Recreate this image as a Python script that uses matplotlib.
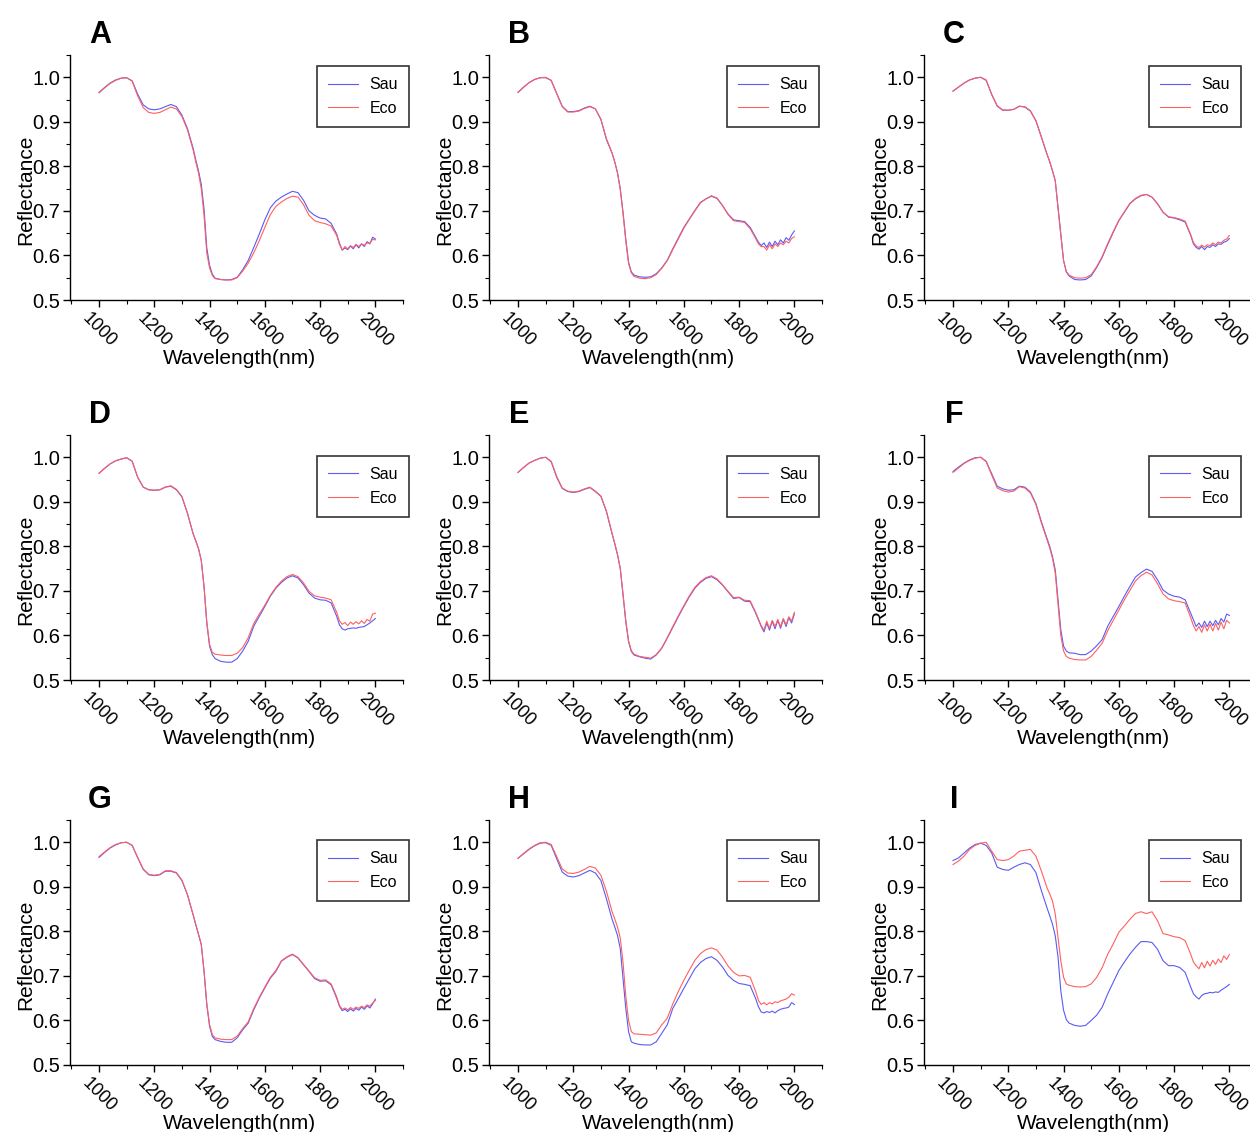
import matplotlib.pyplot as plt
import matplotlib.transforms as mtransforms
from matplotlib.ticker import MultipleLocator

plt.rcParams['font.family'] = ['Liberation Sans', 'DejaVu Sans']

# wavelength grid (nm) the curves were read at
wl = [1000, 1020, 1040, 1060, 1080, 1100, 1120, 1140, 1160, 1180, 1200, 1220, 1240, 1260, 1280, 1300, 1320, 1340,
      1350, 1360, 1370, 1380, 1390, 1400, 1410, 1420,
      1440, 1460, 1480, 1500, 1520, 1540, 1560, 1580, 1600, 1620, 1640, 1660, 1680, 1700, 1720, 1740, 1760, 1780,
      1800, 1820, 1840, 1860,
      1870, 1880, 1890, 1900, 1910, 1920, 1930, 1940, 1950, 1960, 1970, 1980, 1990, 2000]

a_sau = [.966, .977, .987, .994, .998, .999, .992, .962, .938, .929, .927, .929, .934, .939, .934, .915, .885, .842,
         .815, .790, .760, .705, .617, .578, .558, .549,
         .546, .545, .546, .551, .568, .589, .618, .648, .680, .707, .722, .731, .738, .744, .741, .724, .700, .690,
         .684, .682, .672, .648,
         .628, .612, .617, .613, .621, .615, .624, .617, .626, .620, .631, .626, .641, .637]
a_eco = [.965, .976, .986, .993, .998, .999, .991, .958, .932, .921, .919, .921, .927, .933, .929, .912, .882, .838,
         .810, .785, .750, .690, .605, .572, .555, .548,
         .546, .545, .545, .550, .565, .583, .606, .633, .663, .692, .710, .720, .728, .733, .731, .714, .690, .678,
         .674, .671, .666, .645,
         .625, .612, .620, .615, .622, .618, .625, .620, .626, .623, .628, .627, .636, .635]

b_sau = [.966, .978, .988, .995, .999, .999, .993, .964, .935, .923, .923, .925, .931, .935, .929, .905, .860, .830,
         .810, .786, .750, .697, .637, .585, .563, .556,
         .552, .551, .552, .559, .572, .589, .615, .639, .663, .682, .701, .719, .727, .733, .728, .712, .693, .680,
         .678, .676, .663, .641,
         .630, .622, .628, .618, .630, .620, .632, .624, .635, .628, .640, .634, .646, .655]
b_eco = [.966, .977, .988, .995, .999, 1.0, .993, .963, .934, .922, .922, .924, .930, .934, .929, .906, .862, .831,
         .810, .785, .748, .694, .632, .582, .561, .553,
         .549, .548, .550, .557, .571, .588, .613, .637, .661, .681, .700, .718, .727, .734, .729, .712, .692, .678,
         .676, .674, .660, .638,
         .626, .620, .620, .612, .624, .615, .626, .620, .628, .624, .632, .628, .638, .642]

c_sau = [.969, .978, .987, .994, .998, 1.0, .993, .961, .935, .926, .926, .928, .935, .933, .924, .902, .865, .827,
         .810, .790, .768, .708, .649, .589, .563, .554,
         .546, .545, .546, .554, .573, .596, .625, .652, .678, .697, .716, .727, .734, .737, .731, .716, .697, .686,
         .684, .680, .675, .645,
         .626, .618, .614, .620, .613, .620, .618, .624, .620, .626, .625, .630, .632, .638]
c_eco = [.969, .978, .987, .994, .998, 1.0, .994, .962, .936, .927, .926, .928, .935, .934, .925, .903, .866, .828,
         .811, .790, .767, .706, .646, .588, .564, .556,
         .550, .549, .550, .557, .575, .598, .627, .654, .679, .698, .717, .728, .735, .737, .731, .716, .697, .687,
         .685, .682, .677, .647,
         .629, .621, .618, .623, .619, .624, .622, .628, .624, .630, .628, .634, .637, .645]

d_sau = [.964, .975, .985, .992, .996, .999, .991, .955, .933, .927, .926, .927, .933, .935, .927, .911, .874, .829,
         .812, .795, .769, .710, .628, .576, .557, .548,
         .542, .540, .540, .548, .565, .587, .621, .643, .665, .688, .706, .719, .729, .734, .729, .714, .695, .684,
         .680, .679, .673, .643,
         .624, .615, .612, .615, .616, .617, .616, .618, .619, .620, .624, .628, .633, .638]
d_eco = [.964, .975, .985, .992, .996, .999, .991, .955, .933, .927, .926, .927, .933, .936, .928, .912, .875, .830,
         .813, .795, .768, .710, .630, .580, .562, .558,
         .556, .555, .555, .560, .573, .595, .627, .648, .668, .690, .708, .722, .732, .737, .732, .718, .699, .689,
         .686, .684, .680, .652,
         .633, .625, .629, .622, .630, .625, .631, .626, .633, .627, .636, .632, .648, .650]

e_sau = [.966, .977, .987, .993, .998, 1.0, .990, .955, .930, .923, .921, .923, .928, .932, .923, .912, .878, .829,
         .806, .781, .750, .691, .631, .586, .564, .556,
         .552, .549, .547, .556, .571, .594, .618, .642, .665, .687, .706, .719, .728, .732, .725, .713, .698, .683,
         .685, .677, .676, .650,
         .635, .620, .608, .628, .612, .632, .615, .634, .616, .636, .620, .640, .628, .648]
e_eco = [.966, .977, .987, .993, .998, 1.0, .991, .957, .931, .924, .922, .924, .929, .933, .924, .913, .879, .830,
         .807, .782, .751, .693, .633, .588, .566, .558,
         .553, .551, .549, .557, .572, .595, .620, .644, .667, .689, .708, .721, .730, .734, .727, .714, .699, .685,
         .686, .679, .678, .652,
         .637, .622, .612, .632, .616, .634, .620, .636, .620, .638, .624, .642, .632, .652]

f_sau = [.968, .978, .987, .994, .999, 1.0, .991, .963, .935, .929, .926, .927, .935, .933, .922, .896, .855, .818,
         .800, .777, .747, .680, .613, .576, .565, .561,
         .560, .557, .557, .565, .577, .591, .621, .643, .665, .688, .710, .731, .741, .749, .744, .725, .702, .693,
         .688, .686, .680, .650,
         .635, .620, .628, .618, .632, .620, .632, .622, .634, .624, .638, .630, .648, .645]
f_eco = [.966, .976, .986, .993, .998, 1.0, .990, .960, .931, .925, .922, .924, .934, .931, .920, .894, .852, .815,
         .796, .773, .740, .670, .600, .565, .553, .549,
         .546, .545, .545, .553, .567, .583, .611, .634, .657, .680, .701, .722, .734, .742, .736, .716, .693, .682,
         .678, .676, .673, .640,
         .622, .610, .620, .607, .624, .610, .625, .610, .627, .612, .630, .615, .634, .628]

g_sau = [.966, .977, .987, .994, .999, 1.0, .993, .965, .939, .927, .925, .927, .935, .935, .931, .914, .882, .838,
         .815, .793, .770, .710, .635, .587, .564, .557,
         .553, .551, .551, .561, .579, .594, .624, .650, .673, .695, .710, .733, .742, .748, .740, .725, .710, .694,
         .688, .689, .680, .650,
         .632, .622, .625, .620, .626, .621, .627, .623, .630, .625, .633, .628, .637, .648]
g_eco = [.968, .978, .988, .995, .999, 1.0, .993, .966, .940, .928, .926, .928, .936, .936, .932, .915, .883, .839,
         .816, .794, .771, .712, .638, .591, .568, .561,
         .558, .557, .557, .565, .582, .597, .627, .652, .675, .697, .712, .734, .743, .749, .741, .726, .711, .696,
         .690, .691, .682, .653,
         .634, .625, .628, .624, .629, .625, .630, .627, .632, .629, .635, .632, .639, .645]

h_sau = [.964, .974, .984, .992, .998, .999, .993, .963, .933, .924, .922, .925, .931, .937, .931, .914, .873, .828,
         .810, .791, .761, .694, .627, .575, .552, .549,
         .546, .545, .545, .552, .571, .590, .627, .649, .672, .694, .716, .730, .739, .743, .735, .720, .701, .690,
         .683, .681, .678, .649,
         .631, .619, .617, .620, .618, .621, .617, .622, .625, .627, .628, .630, .640, .636]
h_eco = [.964, .975, .985, .993, .999, 1.0, .995, .968, .940, .931, .930, .933, .939, .946, .942, .926, .890, .845,
         .828, .810, .785, .730, .655, .600, .575, .570,
         .569, .568, .567, .572, .590, .605, .637, .665, .690, .713, .735, .750, .759, .763, .758, .742, .722, .708,
         .700, .701, .697, .665,
         .645, .636, .640, .635, .640, .637, .642, .640, .644, .646, .648, .652, .660, .657]

i_sau = [.959, .965, .976, .987, .995, .998, .993, .976, .944, .939, .937, .944, .950, .954, .950, .932, .891, .853,
         .835, .816, .790, .742, .667, .623, .602, .594,
         .589, .587, .589, .600, .612, .630, .660, .686, .712, .731, .749, .764, .777, .777, .775, .760, .734, .723,
         .723, .719, .708, .675,
         .660, .653, .648, .656, .660, .661, .663, .662, .664, .663, .668, .672, .676, .681]
i_eco = [.950, .958, .969, .984, .993, .998, 1.0, .980, .961, .959, .961, .969, .980, .982, .984, .969, .935, .898,
         .884, .868, .839, .786, .734, .697, .682, .679,
         .676, .675, .676, .682, .697, .719, .749, .772, .798, .812, .827, .840, .844, .840, .844, .824, .795, .792,
         .788, .786, .779, .749,
         .731, .723, .716, .730, .718, .733, .722, .735, .726, .738, .730, .745, .737, .748]

letters = ['A', 'B', 'C', 'D', 'E', 'F', 'G', 'H', 'I']
sau_all = [a_sau, b_sau, c_sau, d_sau, e_sau, f_sau, g_sau, h_sau, i_sau]
eco_all = [a_eco, b_eco, c_eco, d_eco, e_eco, f_eco, g_eco, h_eco, i_eco]
xticks = [1000, 1200, 1400, 1600, 1800, 2000]
yticks = [0.5, 0.6, 0.7, 0.8, 0.9, 1.0]

# ------------- Layout (pixels) ------------- #
W, H = 1250, 1132
col_left = [70, 489, 924]
row_bottom = [300, 680, 1065]
ax_w, ax_h = 333, 245
leg_x = [1.018, 0.991, 0.952]
leg_y = [0.955, 0.915, 0.918]

fig = plt.figure(figsize=(W / 100, H / 100), dpi=100)
shift = mtransforms.ScaledTranslation(4 / 100, 0, fig.dpi_scale_trans)

for k in range(9):
    r, c = divmod(k, 3)
    ax = fig.add_axes([col_left[c] / W, 1 - row_bottom[r] / H, ax_w / W, ax_h / H])
    ax.plot(wl, sau_all[k], color='#5a5af5', linewidth=0.8, label='Sau')
    ax.plot(wl, eco_all[k], color='#ff6060', linewidth=0.8, label='Eco')

    ax.set_xlim(895, 2100)
    ax.set_ylim(0.5, 1.05)
    ax.xaxis.set_minor_locator(MultipleLocator(100))
    ax.yaxis.set_minor_locator(MultipleLocator(0.05))
    ax.set_xticks(xticks)
    ax.set_yticks(yticks)
    ax.set_yticklabels(['%.1f' % v for v in yticks], fontsize=14.5)
    ax.set_xticklabels([str(v) for v in xticks], fontsize=13, rotation=-45)
    for lab in ax.get_xticklabels():
        lab.set_transform(lab.get_transform() + shift)

    for s in ['top', 'right']:
        ax.spines[s].set_visible(False)
    for s in ['left', 'bottom']:
        ax.spines[s].set_linewidth(1.0)
    ax.tick_params(which='major', direction='out', length=5, width=1, pad=2)
    ax.tick_params(which='minor', direction='out', length=3, width=0.8)

    ax.set_xlabel('Wavelength(nm)', fontsize=15)
    ax.set_ylabel('Reflectance', fontsize=15)
    ax.xaxis.set_label_coords(0.51, -0.2)
    ax.yaxis.set_label_coords(-0.105, 0.45)

    leg = ax.legend(loc='upper right', bbox_to_anchor=(leg_x[c], leg_y[r]), fontsize=11.5,
                    frameon=True, fancybox=False, edgecolor='black', borderpad=0.7,
                    handlelength=1.9, handletextpad=0.7, labelspacing=0.55, borderaxespad=0)
    leg.get_frame().set_linewidth(1.2)

    # panel letter above the 1000 nm tick
    fig.text((col_left[c] + 30) / W, 1 - (row_bottom[r] - 268) / H - 3 / H, letters[k],
             fontsize=22, fontweight='bold', ha='center', va='center')

plt.savefig('out.png', dpi=100)
